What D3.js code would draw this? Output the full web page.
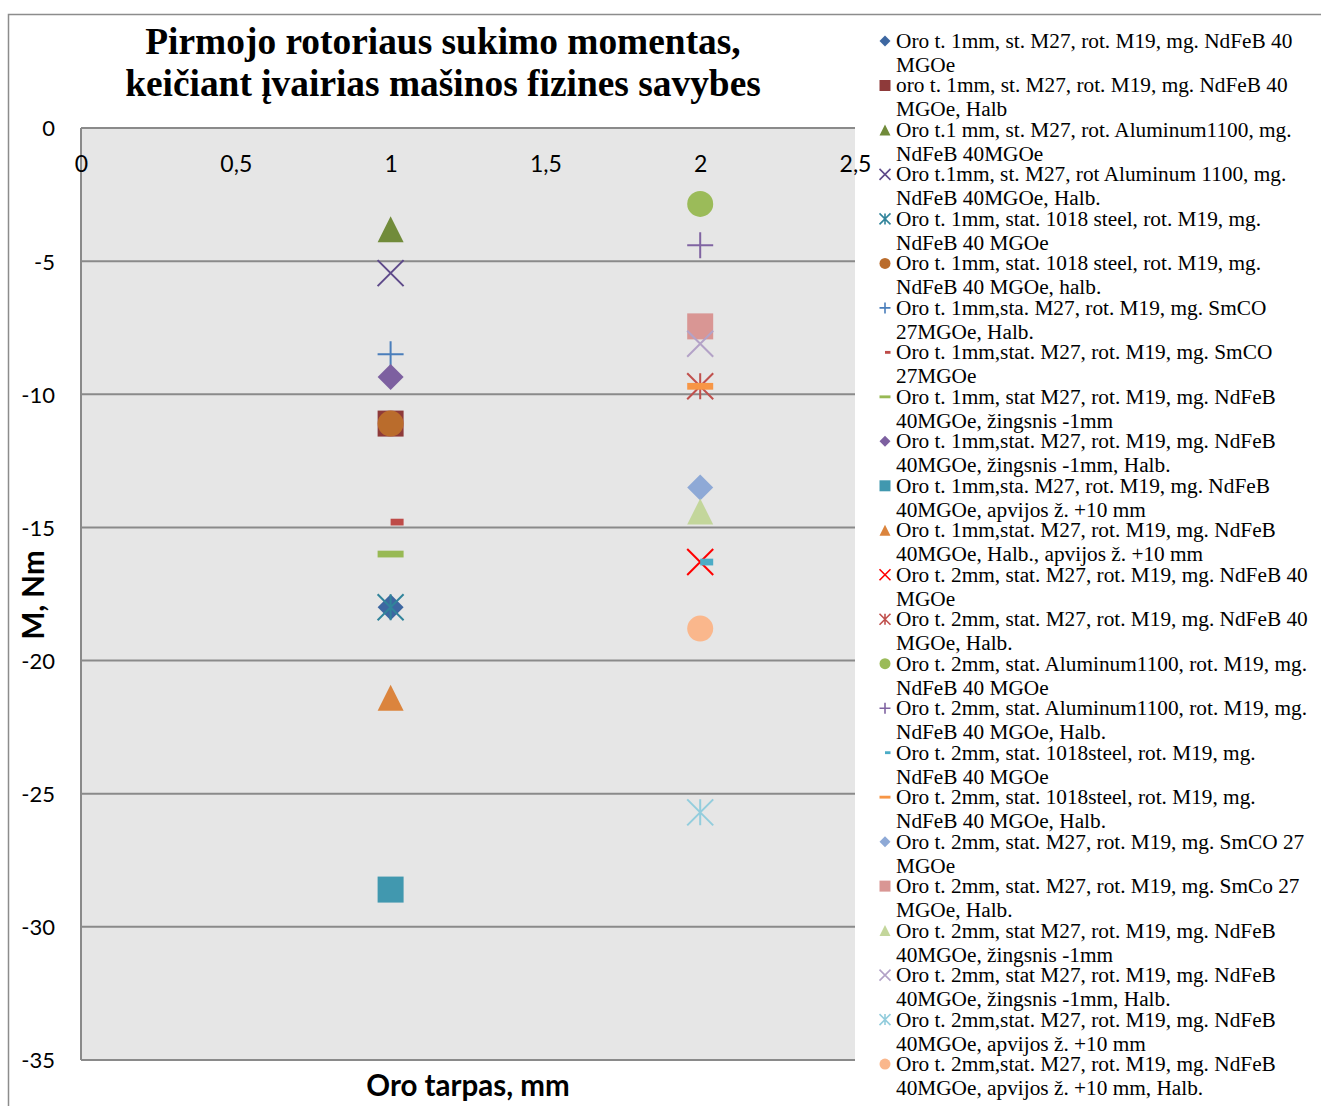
<!DOCTYPE html>
<html>
<head>
<meta charset="utf-8">
<script src="https://cdn.jsdelivr.net/npm/d3@7/dist/d3.min.js"></script>
<style>
  html, body { margin: 0; padding: 0; background: #fff; }
  svg { display: block; }
</style>
</head>
<body>
<svg id="chart" width="1321" height="1106"></svg>
<script>
// Torque of the first rotor for different machine configurations
const titleLines = ["Pirmojo rotoriaus sukimo momentas,", "keičiant įvairias mašinos fizines savybes"];
const xAxisTitle = "Oro tarpas, mm";
const yAxisTitle = "M, Nm";

const xTicks = [0, 0.5, 1, 1.5, 2, 2.5];
const yTicks = [0, -5, -10, -15, -20, -25, -30, -35];

// Series names (two display lines each)
const seriesNames = [
  ["Oro t. 1mm, st. M27, rot. M19, mg. NdFeB 40", "MGOe"],
  ["oro t. 1mm, st. M27, rot. M19, mg. NdFeB 40", "MGOe, Halb"],
  ["Oro t.1 mm, st. M27, rot. Aluminum1100, mg.", "NdFeB 40MGOe"],
  ["Oro t.1mm, st. M27, rot Aluminum 1100, mg.", "NdFeB 40MGOe, Halb."],
  ["Oro t. 1mm, stat. 1018 steel, rot. M19, mg.", "NdFeB 40 MGOe"],
  ["Oro t. 1mm, stat. 1018 steel, rot. M19, mg.", "NdFeB 40 MGOe, halb."],
  ["Oro t. 1mm,sta. M27, rot. M19, mg. SmCO", "27MGOe, Halb."],
  ["Oro t. 1mm,stat. M27, rot. M19, mg. SmCO", "27MGOe"],
  ["Oro t. 1mm, stat M27, rot. M19, mg. NdFeB", "40MGOe, žingsnis -1mm"],
  ["Oro t. 1mm,stat. M27, rot. M19, mg. NdFeB", "40MGOe, žingsnis -1mm, Halb."],
  ["Oro t. 1mm,sta. M27, rot. M19, mg. NdFeB", "40MGOe, apvijos ž. +10 mm"],
  ["Oro t. 1mm,stat. M27, rot. M19, mg. NdFeB", "40MGOe, Halb., apvijos ž. +10 mm"],
  ["Oro t. 2mm, stat. M27, rot. M19, mg. NdFeB 40", "MGOe"],
  ["Oro t. 2mm, stat. M27, rot. M19, mg. NdFeB 40", "MGOe, Halb."],
  ["Oro t. 2mm, stat. Aluminum1100, rot. M19, mg.", "NdFeB 40 MGOe"],
  ["Oro t. 2mm, stat. Aluminum1100, rot. M19, mg.", "NdFeB 40 MGOe, Halb."],
  ["Oro t. 2mm, stat. 1018steel, rot. M19, mg.", "NdFeB 40 MGOe"],
  ["Oro t. 2mm, stat. 1018steel, rot. M19, mg.", "NdFeB 40 MGOe, Halb."],
  ["Oro t. 2mm, stat. M27, rot. M19, mg. SmCO 27", "MGOe"],
  ["Oro t. 2mm, stat. M27, rot. M19, mg. SmCo 27", "MGOe, Halb."],
  ["Oro t. 2mm, stat M27, rot. M19, mg. NdFeB", "40MGOe, žingsnis -1mm"],
  ["Oro t. 2mm, stat M27, rot. M19, mg. NdFeB", "40MGOe, žingsnis -1mm, Halb."],
  ["Oro t. 2mm,stat. M27, rot. M19, mg. NdFeB", "40MGOe, apvijos ž. +10 mm"],
  ["Oro t. 2mm,stat. M27, rot. M19, mg. NdFeB", "40MGOe, apvijos ž. +10 mm, Halb."]
];

// Air gap (mm) of each series
const seriesX = [1, 1, 1, 1, 1, 1, 1, 1, 1, 1, 1, 1,
                 2, 2, 2, 2, 2, 2, 2, 2, 2, 2, 2, 2];
// Torque (Nm) of each series
const seriesY = [-18.0, -11.1, -3.8, -5.45, -18.0, -11.1, -8.5, -14.8, -16.0, -9.35, -28.6, -21.4,
                 -16.3, -9.7, -2.85, -4.4, -16.3, -9.7, -13.5, -7.45, -14.4, -8.1, -25.7, -18.8];

const seriesShape = ["diamond", "square", "triangle", "x", "asterisk", "circle",
                     "plus", "shortdash", "longdash", "diamond", "square", "triangle",
                     "x", "asterisk", "circle", "plus", "shortdash", "longdash",
                     "diamond", "square", "triangle", "x", "asterisk", "circle"];

const seriesColor = ["#3D67A1", "#8E3A3A", "#718B3A", "#5E4A8A", "#31849B", "#BA6C2C",
                     "#4A7EBB", "#BE4B48", "#98B954", "#7D60A0", "#4198AF", "#DB843D",
                     "#FF0000", "#C0504D", "#9BBB59", "#8064A2", "#4BACC6", "#F79646",
                     "#8EA9D6", "#D99694", "#C3D69B", "#B3A2C7", "#93CDDD", "#FAB78C"];

const svg = d3.select("#chart");

// Outer chart frame
svg.append("rect")
  .attr("x", 8.5).attr("y", 14.5)
  .attr("width", 1330).attr("height", 1110)
  .attr("fill", "none").attr("stroke", "#8c8c8c").attr("stroke-width", 1.5);

const plot = { left: 81, right: 855, top: 128, bottom: 1060 };

const x = d3.scaleLinear().domain([0, 2.5]).range([plot.left, plot.right]);
const y = d3.scaleLinear().domain([0, -35]).range([plot.top, plot.bottom]);

// Plot background
svg.append("rect")
  .attr("x", plot.left).attr("y", plot.top)
  .attr("width", plot.right - plot.left).attr("height", plot.bottom - plot.top)
  .attr("fill", "#e6e6e6");

// Horizontal gridlines
svg.append("g")
  .selectAll("line")
  .data(yTicks)
  .join("line")
  .attr("x1", plot.left).attr("x2", plot.right)
  .attr("y1", d => y(d)).attr("y2", d => y(d))
  .attr("stroke", "#8a8a8a").attr("stroke-width", 2);

// Vertical axis line
svg.append("line")
  .attr("x1", plot.left).attr("x2", plot.left)
  .attr("y1", plot.top).attr("y2", plot.bottom)
  .attr("stroke", "#8a8a8a").attr("stroke-width", 2);

const fmt = v => String(v).replace(".", ",");

// Y tick labels
const yAxis = d3.axisLeft(y).tickValues(yTicks).tickSize(0).tickPadding(0).tickFormat(fmt);
const gy = svg.append("g").attr("transform", `translate(${plot.left - 26},0)`).call(yAxis);
gy.select(".domain").remove();
gy.selectAll("text")
  .attr("font-family", "Lato, 'Open Sans', sans-serif")
  .attr("font-size", 22).attr("fill", "#000").attr("dy", "0.36em");

// X tick labels (axis crosses at y = 0, labels sit just under it)
const xAxis = d3.axisBottom(x).tickValues(xTicks).tickSize(0).tickPadding(0).tickFormat(fmt);
const gx = svg.append("g").attr("transform", `translate(0,${plot.top + 26})`).call(xAxis);
gx.select(".domain").remove();
gx.selectAll("text")
  .attr("font-family", "Lato, 'Open Sans', sans-serif")
  .attr("font-size", 23).attr("fill", "#000").attr("dy", "0.36em").attr("y", 10);

// Marker path generator
function markerPath(shape, s) {
  const h = s / 2;
  const p = d3.path();
  switch (shape) {
    case "diamond":
      p.moveTo(0, -h); p.lineTo(h, 0); p.lineTo(0, h); p.lineTo(-h, 0); p.closePath(); break;
    case "square":
      p.rect(-h, -h, s, s); break;
    case "triangle":
      p.moveTo(0, -h); p.lineTo(h, h); p.lineTo(-h, h); p.closePath(); break;
    case "circle":
      p.arc(0, 0, h, 0, 2 * Math.PI); p.closePath(); break;
    case "x":
      p.moveTo(-h, -h); p.lineTo(h, h); p.moveTo(h, -h); p.lineTo(-h, h); break;
    case "asterisk":
      p.moveTo(-h, -h); p.lineTo(h, h); p.moveTo(h, -h); p.lineTo(-h, h);
      p.moveTo(0, -h); p.lineTo(0, h); break;
    case "plus":
      p.moveTo(-h, 0); p.lineTo(h, 0); p.moveTo(0, -h); p.lineTo(0, h); break;
    case "shortdash":
      p.rect(0, -s * 0.13, s / 2, s * 0.26); break;
    case "longdash":
      p.rect(-h, -s * 0.13, s, s * 0.26); break;
  }
  return p.toString();
}
const isStroke = shape => shape === "x" || shape === "asterisk" || shape === "plus";

function drawMarker(g, shape, color, size, sw) {
  g.append("path")
    .attr("d", markerPath(shape, size))
    .attr("fill", isStroke(shape) ? "none" : color)
    .attr("stroke", isStroke(shape) ? color : "none")
    .attr("stroke-width", sw);
}

// Data markers
const points = seriesY.map((v, i) => ({ x: seriesX[i], y: v, i }));
const gm = svg.append("g");
points.forEach(d => {
  const g = gm.append("g").attr("transform", `translate(${x(d.x)},${y(d.y)})`);
  drawMarker(g, seriesShape[d.i], seriesColor[d.i], 26, 2);
});

// Title
svg.append("text")
  .attr("x", 443).attr("y", 54)
  .attr("text-anchor", "middle")
  .attr("font-family", "'Liberation Serif', 'Times New Roman', serif")
  .attr("font-weight", "bold").attr("font-size", 37.4)
  .selectAll("tspan")
  .data(titleLines)
  .join("tspan")
  .attr("x", 443)
  .attr("dy", (d, i) => i === 0 ? 0 : 42)
  .text(d => d);

// Axis titles
svg.append("text")
  .attr("x", 468).attr("y", 1096)
  .attr("text-anchor", "middle")
  .attr("font-family", "Lato, 'Open Sans', sans-serif")
  .attr("font-weight", "bold").attr("font-size", 29.5)
  .text(xAxisTitle);

svg.append("text")
  .attr("transform", `translate(44,595) rotate(-90)`)
  .attr("text-anchor", "middle")
  .attr("font-family", "Lato, 'Open Sans', sans-serif")
  .attr("font-weight", "bold").attr("font-size", 29.5)
  .text(yAxisTitle);

// Legend
const legend = svg.append("g");
const legY0 = 41, legStep = 44.48;
seriesNames.forEach((lines, i) => {
  const cy = legY0 + i * legStep;
  const g = legend.append("g");
  const m = g.append("g").attr("transform", `translate(885,${cy})`);
  drawMarker(m, seriesShape[i], seriesColor[i], 11, 1.6);
  g.append("text")
    .attr("x", 896).attr("y", cy + 7)
    .attr("font-family", "'Liberation Serif', 'Times New Roman', serif")
    .attr("font-size", 21.3).attr("fill", "#000")
    .selectAll("tspan")
    .data(lines)
    .join("tspan")
    .attr("x", 896)
    .attr("dy", (d, k) => k === 0 ? 0 : 24)
    .text(d => d);
});
</script>
</body>
</html>
